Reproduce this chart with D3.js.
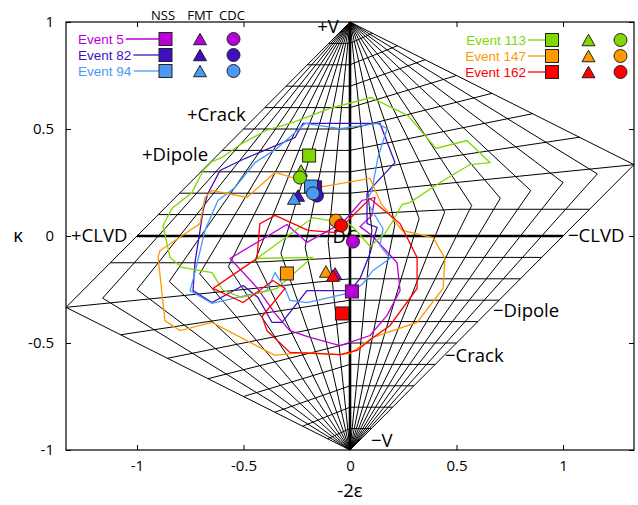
<!DOCTYPE html>
<html><head><meta charset="utf-8">
<script src="https://cdn.jsdelivr.net/npm/d3@7"></script>
<style>
body{margin:0;background:#fff}
svg{display:block}
text{font-family:"Open Sans",sans-serif;fill:#000}
</style>
</head><body>
<svg id="chart" width="638" height="505"></svg>
<script>
// Source-type (Hudson) plot: grid of constant T (= -2ε) and κ, uncertainty
// contours per event and NSS / FMT / CDC solutions.

const events = ["Event 5", "Event 82", "Event 94", "Event 113", "Event 147", "Event 162"];
const colors = ["#b800d8", "#4010c0", "#4a9af5", "#80d800", "#ff9900", "#ff0000"];

// plotted source-type coordinates [u, v] of each solution, one per event
const nss = [[0.009, -0.259], [-0.164, 0.227], [-0.183, 0.231], [-0.192, 0.376], [-0.296, -0.175], [-0.038, -0.362]];
const fmt = [[-0.070, -0.175], [-0.244, 0.189], [-0.263, 0.175], [-0.230, 0.306], [-0.113, -0.166], [-0.080, -0.185]];
const cdc = [[0.014, -0.026], [-0.155, 0.189], [-0.174, 0.199], [-0.235, 0.273], [-0.066, 0.072], [-0.042, 0.049]];

// confidence contours [u, v]
const contour5 = [[-0.296,0.054],[-0.202,-0.030],[-0.033,0.063],[0.056,0.166],[0.117,0.180],[0.103,0.096],[0.047,0.044],[0.103,0.002],[0.221,-0.124],[0.235,-0.255],[0.174,-0.371],[0.094,-0.465],[-0.047,-0.512],[-0.188,-0.474],[-0.282,-0.442],[-0.352,-0.362],[-0.437,-0.241],[-0.563,-0.105]];
const contour82 = [[-0.221,0.526],[0.141,0.526],[0.211,0.343],[0.103,0.227],[0.080,0.199],[0.080,0.058],[0.127,0.040],[0.094,-0.082],[0.047,-0.199],[0.000,-0.255],[-0.202,-0.255],[-0.319,-0.404],[-0.366,-0.404],[-0.432,-0.287],[-0.502,-0.231],[-0.648,-0.311],[-0.737,-0.255],[-0.728,-0.124],[-0.704,0.026],[-0.690,0.119],[-0.667,0.199],[-0.610,0.306],[-0.493,0.362],[-0.258,0.460]];
const contour94 = [[-0.211,0.526],[-0.047,0.502],[0.127,0.526],[0.174,0.502],[0.131,0.367],[0.103,0.213],[0.080,0.166],[0.103,0.119],[0.155,0.035],[0.141,-0.044],[0.188,-0.105],[0.108,-0.161],[0.061,-0.222],[0.009,-0.264],[-0.202,-0.311],[-0.282,-0.301],[-0.305,-0.245],[-0.352,-0.171],[-0.390,-0.255],[-0.648,-0.315],[-0.751,-0.255],[-0.728,-0.171],[-0.681,0.026],[-0.667,0.058],[-0.620,0.166],[-0.540,0.227],[-0.446,0.343],[-0.343,0.409],[-0.258,0.484]];
const contour113 = [[0.099,0.647],[0.272,0.563],[0.404,0.409],[0.549,0.446],[0.657,0.343],[0.563,0.334],[0.423,0.250],[0.282,0.157],[0.244,0.147],[0.197,0.063],[0.164,0.012],[0.094,-0.049],[0.033,0.021],[0.000,0.054],[-0.174,0.086],[-0.437,-0.105],[-0.178,-0.100],[-0.343,-0.245],[-0.507,-0.287],[-0.596,-0.255],[-0.648,-0.171],[-0.789,-0.147],[-0.845,-0.100],[-0.878,0.049],[-0.836,0.129],[-0.742,0.203],[-0.690,0.306],[-0.648,0.348],[-0.601,0.367],[-0.507,0.432],[-0.394,0.493],[-0.258,0.535],[-0.094,0.596]];
const contour147 = [[-0.352,0.297],[-0.127,0.231],[0.094,0.269],[0.146,0.152],[0.244,0.026],[0.390,-0.007],[0.446,-0.105],[0.437,-0.245],[0.315,-0.404],[0.108,-0.474],[0.000,-0.549],[-0.047,-0.554],[-0.221,-0.544],[-0.352,-0.558],[-0.648,-0.404],[-0.798,-0.442],[-0.869,-0.395],[-0.901,-0.100],[-0.892,-0.068],[-0.704,0.058],[-0.681,0.180],[-0.648,0.213],[-0.484,0.180]];
const contour162 = [[-0.352,0.096],[-0.197,0.026],[-0.066,0.016],[0.094,0.175],[0.235,0.058],[0.315,-0.100],[0.315,-0.245],[0.188,-0.418],[0.103,-0.479],[0.033,-0.535],[-0.047,-0.554],[-0.282,-0.544],[-0.390,-0.442],[-0.413,-0.376],[-0.305,-0.245],[-0.362,-0.208],[-0.502,-0.311],[-0.643,-0.245],[-0.437,-0.105],[-0.423,0.058]];
const contours = [contour5, contour82, contour94, contour113, contour147, contour162];

// grid values
const tValues = d3.range(-10, 11).map(i => i / 10);
const kValues = d3.range(-9, 10).map(i => i / 10);
const xTicks = [-1, -0.5, 0, 0.5, 1];
const yTicks = [-1, -0.5, 0, 0.5, 1];

const svg = d3.select("#chart");
const pL = 66, pR = 634, pT = 22, pB = 450;
const x = d3.scaleLinear().domain([-4 / 3, 4 / 3]).range([pL, pR]);
const y = d3.scaleLinear().domain([-1, 1]).range([pB, pT]);

// Hudson et al. (1989) mapping from (T, k) to plotted (u, v)
function hudson(T, k) {
  const tau = T * (1 - Math.abs(k));
  if ((tau > 0 && k < 0) || (tau < 0 && k > 0)) return [tau, k];
  let s = 1, t = tau, kk = k;
  if (tau < 0 || k < 0) { s = -1; t = -tau; kk = -k; }
  let u, v;
  if (t < 4 * kk) { u = t / (1 - t / 2); v = kk / (1 - t / 2); }
  else { u = t / (1 - 2 * kk); v = kk / (1 - 2 * kk); }
  return [s * u, s * v];
}

const line = d3.line().x(d => x(d[0])).y(d => y(d[1]));

const grid = svg.append("g").attr("fill", "none").attr("stroke", "#000").attr("stroke-width", 1);
tValues.forEach(T => {
  if (T === 0) return;
  const ks = T > 0 ? [-1, 0, T / (4 + T), 1] : [-1, T / (4 - T), 0, 1];
  grid.append("path").attr("d", line(ks.map(k => hudson(T, k))));
});
kValues.forEach(k => {
  if (k === 0) return;
  const a = Math.abs(k), kinkT = 4 * a / (1 - a);
  let ts = [-1, 0, 1];
  if (kinkT < 1) ts.push(k > 0 ? kinkT : -kinkT);
  ts.sort((p, q) => p - q);
  grid.append("path").attr("d", line(ts.map(T => hudson(T, k))));
});

// zero axes of the diagram
const axesG = svg.append("g").attr("stroke", "#000").attr("stroke-width", 2.6);
axesG.append("line").attr("x1", x(0)).attr("x2", x(0)).attr("y1", y(-1)).attr("y2", y(1));
axesG.append("line").attr("x1", x(-1)).attr("x2", x(1)).attr("y1", y(0)).attr("y2", y(0));

// end-member labels
const labels = [
  {t: "+V", x: 328, y: 33, a: "middle"},
  {t: "\u2212V", x: 371, y: 447, a: "start"},
  {t: "+CLVD", x: 71, y: 242, a: "start"},
  {t: "\u2212CLVD", x: 568, y: 242, a: "start"},
  {t: "+Crack", x: 187, y: 121, a: "start"},
  {t: "+Dipole", x: 142, y: 161, a: "start"},
  {t: "\u2212Dipole", x: 493, y: 317, a: "start"},
  {t: "\u2212Crack", x: 445, y: 362, a: "start"},
  {t: "DC", x: 345, y: 243, a: "middle"}
];
svg.append("g").selectAll("text").data(labels).join("text")
  .attr("x", d => d.x).attr("y", d => d.y).attr("text-anchor", d => d.a)
  .attr("font-size", 18.5).text(d => d.t);

// contours
svg.append("g").selectAll("path").data(contours).join("path")
  .attr("d", d => line(d) + "Z")
  .attr("fill", "none").attr("stroke-width", 1.3)
  .attr("stroke", (d, i) => colors[i]);

// marker shapes
const S = 13;
function square(g, cx, cy, c) {
  g.append("rect").attr("x", cx - S / 2).attr("y", cy - S / 2).attr("width", S).attr("height", S)
    .attr("fill", c).attr("stroke", "#222").attr("stroke-width", 1);
}
function triangle(g, cx, cy, c) {
  const w = 13, h = 11.5;
  g.append("path").attr("d", `M${cx},${cy - h / 2}L${cx + w / 2},${cy + h / 2}L${cx - w / 2},${cy + h / 2}Z`)
    .attr("fill", c).attr("stroke", "#222").attr("stroke-width", 1);
}
function circle(g, cx, cy, c) {
  g.append("circle").attr("cx", cx).attr("cy", cy).attr("r", S / 2)
    .attr("fill", c).attr("stroke", "#222").attr("stroke-width", 1);
}

const marks = svg.append("g");
nss.forEach((p, i) => square(marks, x(p[0]), y(p[1]), colors[i]));
fmt.forEach((p, i) => triangle(marks, x(p[0]), y(p[1]), colors[i]));
cdc.forEach((p, i) => circle(marks, x(p[0]), y(p[1]), colors[i]));

// frame and ticks
svg.append("rect").attr("x", pL).attr("y", pT).attr("width", pR - pL).attr("height", pB - pT)
  .attr("fill", "none").attr("stroke", "#000").attr("stroke-width", 1.2);

const fmtTick = d => String(d);
function styleAxis(g) {
  g.select(".domain").remove();
  g.selectAll(".tick line").attr("stroke", "#000");
  g.selectAll("text").attr("font-size", 15).attr("font-family", "'Open Sans',sans-serif");
}
svg.append("g").attr("transform", `translate(0,${pB})`)
  .call(d3.axisBottom(x).tickValues(xTicks).tickSize(-5).tickPadding(10).tickFormat(fmtTick)).call(styleAxis);
svg.append("g").attr("transform", `translate(0,${pT})`)
  .call(d3.axisTop(x).tickValues(xTicks).tickSize(-5).tickFormat("")).call(styleAxis);
svg.append("g").attr("transform", `translate(${pL},0)`)
  .call(d3.axisLeft(y).tickValues(yTicks).tickSize(-5).tickPadding(12).tickFormat(fmtTick)).call(styleAxis);
svg.append("g").attr("transform", `translate(${pR},0)`)
  .call(d3.axisRight(y).tickValues(yTicks).tickSize(-5).tickFormat("")).call(styleAxis);

svg.append("text").attr("x", 350).attr("y", 497).attr("text-anchor", "middle").attr("font-size", 18.5).text("-2\u03b5");
svg.append("text").attr("x", 18).attr("y", 242).attr("text-anchor", "middle").attr("font-size", 18.5).text("\u03ba");

// legend
const lg = svg.append("g");
[["NSS", 163], ["FMT", 200], ["CDC", 232]].forEach(([t, cx]) =>
  lg.append("text").attr("x", cx).attr("y", 20).attr("text-anchor", "middle").attr("font-size", 13).text(t));

const legendCols = [
  {rows: [0, 1, 2], textX: 78, anchor: "start", sq: 165.5, tri: 200, cir: 233.5, y0: 39},
  {rows: [3, 4, 5], textX: 526, anchor: "end", sq: 552, tri: 588.5, cir: 620.5, y0: 40}
];
legendCols.forEach(col => {
  col.rows.forEach((ei, r) => {
    const cy = col.y0 + r * 16;
    const t = lg.append("text").attr("x", col.textX).attr("y", cy + 5).attr("text-anchor", col.anchor)
      .attr("font-size", 13.5).style("font-family", "'Liberation Sans',Arial,sans-serif")
      .style("fill", colors[ei]).text(events[ei]);
    const bb = t.node().getBBox();
    lg.append("line").attr("x1", bb.x + bb.width + 2).attr("x2", col.sq - S / 2).attr("y1", cy).attr("y2", cy)
      .attr("stroke", colors[ei]).attr("stroke-width", 1.3);
    square(lg, col.sq, cy, colors[ei]);
    triangle(lg, col.tri, cy, colors[ei]);
    circle(lg, col.cir, cy, colors[ei]);
  });
});
</script>
</body></html>
